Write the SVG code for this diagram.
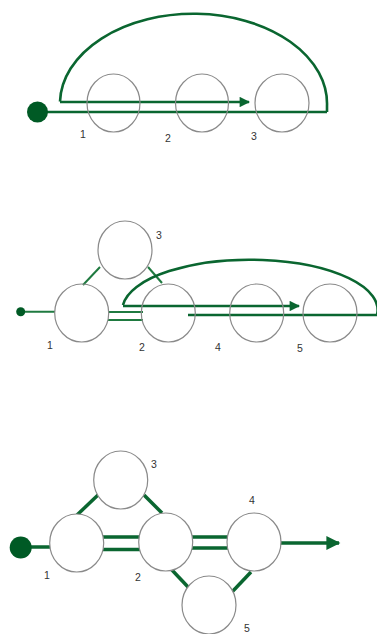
<svg xmlns="http://www.w3.org/2000/svg" width="377" height="634" viewBox="0 0 377 634">
<defs>
<marker id="ah" viewBox="0 0 10 10" refX="9" refY="5" markerWidth="4.2" markerHeight="4" markerUnits="strokeWidth" orient="auto">
<path d="M0,0 L10,5 L0,10 z" fill="#0a6630"/>
</marker>
</defs>
<style>
.n{fill:none;stroke:#8a8a8a;stroke-width:1.2}
.nf{fill:#fff;stroke:#8a8a8a;stroke-width:1.2}
.l{fill:none;stroke:#0a6630;stroke-width:2.6}
.lt{fill:none;stroke:#1f7a40;stroke-width:2}
.lb{fill:none;stroke:#0a6630;stroke-width:3.5}
.dot{fill:#005a25}
.t{font-family:"Liberation Sans",Arial,sans-serif;font-size:10.5px;fill:#333;text-anchor:middle}
</style>
<rect width="377" height="634" fill="#fff"/>

<!-- Diagram 1 -->
<g id="connectors1">
<path class="l" d="M37 112 H327"/>
<path class="l" d="M327 112 V106 A133.5 90 0 0 0 60 101.5 H60"/>
<path class="l" d="M60 102 H249" marker-end="url(#ah)"/>
</g>
<g id="d1-start"><circle class="dot" cx="37.5" cy="112" r="10.5"/></g>
<g id="d1-n1"><ellipse class="n" cx="113.5" cy="103" rx="26.5" ry="29"/><text class="t" x="83" y="138">1</text></g>
<g id="d1-n2"><ellipse class="n" cx="202" cy="103" rx="26.5" ry="29"/><text class="t" x="168" y="142">2</text></g>
<g id="d1-n3"><ellipse class="n" cx="282" cy="103" rx="27" ry="29"/><text class="t" x="254" y="140">3</text></g>

<!-- Diagram 2 -->
<g id="connectors2">
<path class="lt" d="M21 311.7 H55"/>
<path class="lt" d="M83 285 L100 267"/>
<path class="lt" d="M148 267 L162 283"/>
<path class="lt" d="M108 312 H143 M108 320 H143"/>
<path class="l" d="M188 315 H377 A127 50 0 0 0 123 305"/>
<path class="l" d="M123 306 H299" marker-end="url(#ah)"/>
</g>
<g id="d2-start"><circle class="dot" cx="20.7" cy="311.7" r="4.5"/></g>
<g id="d2-n1"><ellipse class="n" cx="81.7" cy="313" rx="27" ry="29"/><text class="t" x="50" y="349">1</text></g>
<g id="d2-n3"><ellipse class="n" cx="125" cy="250" rx="27" ry="29"/><text class="t" x="159" y="239">3</text></g>
<g id="d2-n2"><ellipse class="n" cx="168.3" cy="313" rx="27" ry="29"/><text class="t" x="142" y="351">2</text></g>
<g id="d2-n4"><ellipse class="n" cx="256.7" cy="313" rx="27" ry="29"/><text class="t" x="218" y="351">4</text></g>
<g id="d2-n5"><ellipse class="n" cx="330" cy="313" rx="27" ry="29"/><text class="t" x="300" y="352">5</text></g>

<!-- Diagram 3 -->
<g id="connectors3">
<path class="lb" d="M21 547 H52"/>
<path class="lb" d="M77 515 L98 495"/>
<path class="lb" d="M144 495 L162 513"/>
<path class="lb" d="M172 570 L188 587"/>
<path class="lb" d="M251 572 L232 592"/>
<path class="lb" d="M103 537 H140 M103 549.5 H140"/>
<path class="lb" d="M190 537 H228 M190 548 H228"/>
<path class="lb" d="M280 543 H339" marker-end="url(#ah)"/>
</g>
<g id="d3-start"><circle class="dot" cx="20.7" cy="547.5" r="11"/></g>
<g id="d3-n1"><ellipse class="nf" cx="76.7" cy="543" rx="27" ry="29"/><text class="t" x="47" y="579">1</text></g>
<g id="d3-n3"><ellipse class="nf" cx="120.7" cy="480" rx="27" ry="29"/><text class="t" x="154" y="468">3</text></g>
<g id="d3-n2"><ellipse class="nf" cx="165.7" cy="542" rx="27" ry="29"/><text class="t" x="138" y="581">2</text></g>
<g id="d3-n4"><ellipse class="nf" cx="254" cy="542" rx="27" ry="29"/><text class="t" x="252" y="504">4</text></g>
<g id="d3-n5"><ellipse class="nf" cx="209" cy="605" rx="27" ry="29"/><text class="t" x="247" y="632">5</text></g>
</svg>
